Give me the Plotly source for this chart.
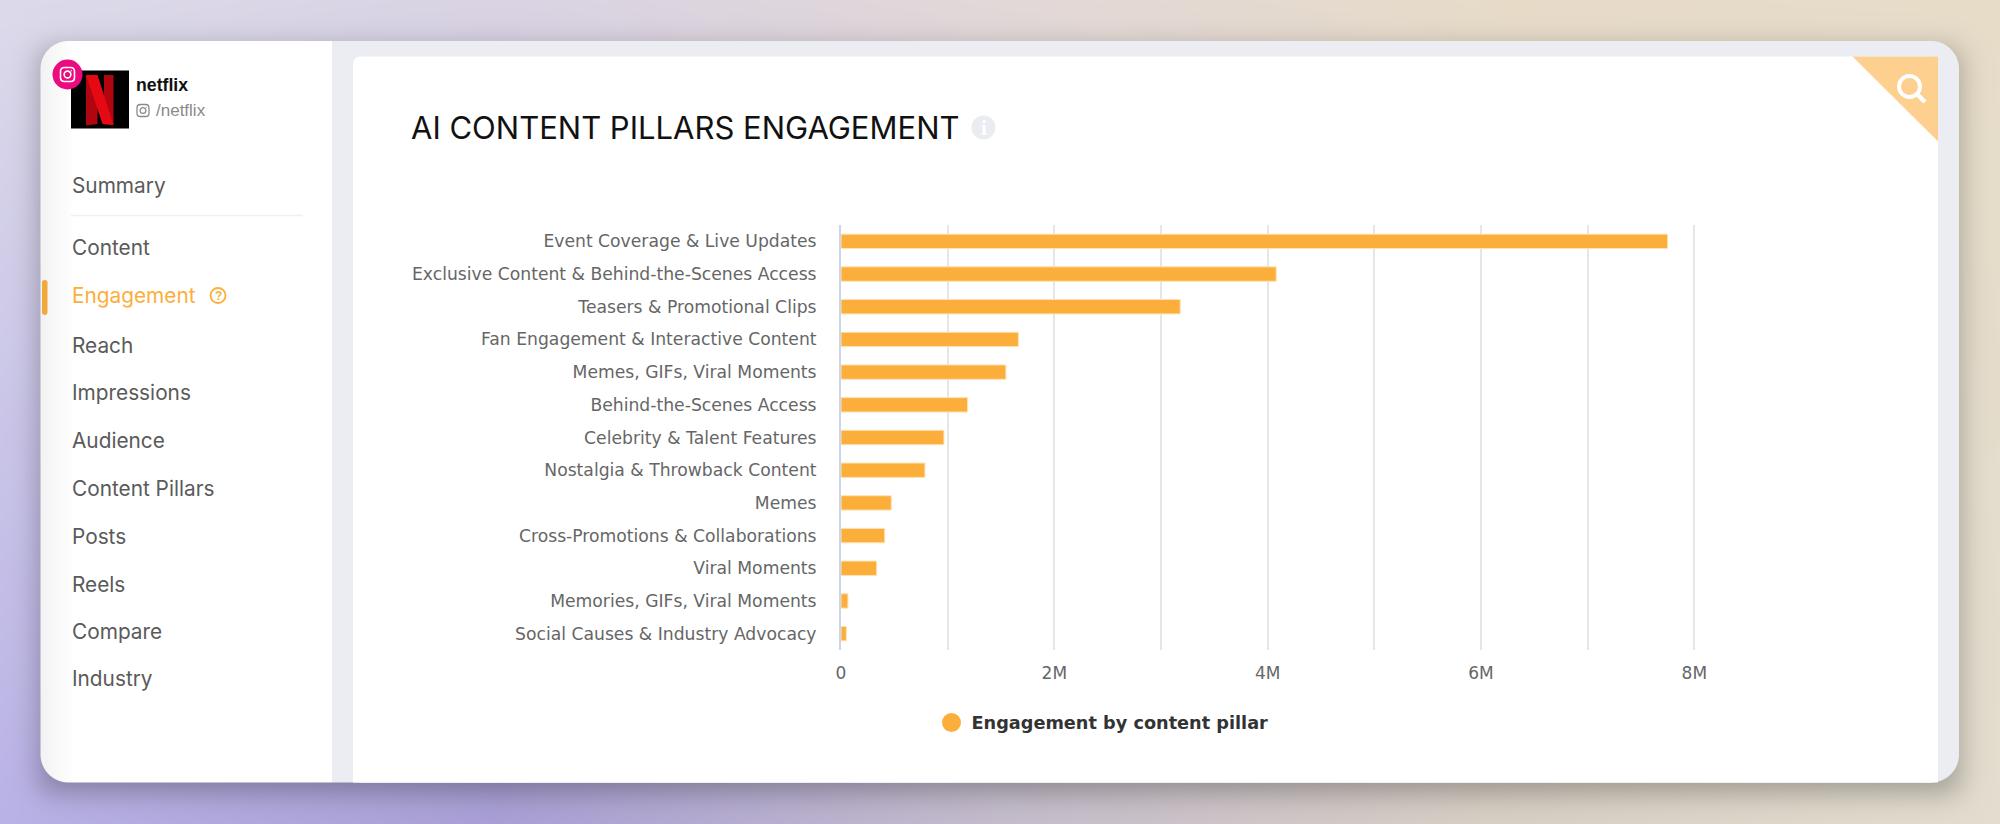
import base64
import math
import struct
import zlib

import numpy as np
import plotly.graph_objects as go

# chart values
categories = [
    "Event Coverage & Live Updates",
    "Exclusive Content & Behind-the-Scenes Access",
    "Teasers & Promotional Clips",
    "Fan Engagement & Interactive Content",
    "Memes, GIFs, Viral Moments",
    "Behind-the-Scenes Access",
    "Celebrity & Talent Features",
    "Nostalgia & Throwback Content",
    "Memes",
    "Cross-Promotions & Collaborations",
    "Viral Moments",
    "Memories, GIFs, Viral Moments",
    "Social Causes & Industry Advocacy",
]
engagement = [7750000, 4080000, 3180000, 1663000, 1546000, 1187000, 965000,
              787000, 471000, 410000, 334000, 65000, 50000]
tick_vals = [0, 1e6, 2e6, 3e6, 4e6, 5e6, 6e6, 7e6, 8e6, 9e6]
tick_text = ["0", "", "2M", "", "4M", "", "6M", "", "8M", ""]
series_name = "Engagement by content pillar"
chart_title = "AI CONTENT PILLARS ENGAGEMENT"

# sidebar
nav_labels = ["Summary", "Content", "Engagement", "Reach", "Impressions", "Audience",
              "Content Pillars", "Posts", "Reels", "Compare", "Industry"]
nav_y = [185, 248, 295, 345, 393, 440, 488.5, 536, 584, 631, 678.5]

W, H = 2000, 824
ORANGE = "#fcae3b"
TICK_FONT = "DejaVu Sans"
NAV_FONT = "Inter"


def fx(x):
    return x / W


def fy(y):
    return 1 - y / H


def make_backdrop():
    # page gradient, card shadow and card body as one png
    xs = np.arange(W) + 0.5
    ys = np.arange(H) + 0.5
    stops = [0, 500, 1000, 1500, 2000]
    top = [(220, 218, 234), (217, 211, 227), (226, 216, 216), (231, 219, 200), (230, 220, 200)]
    bottom = [(185, 178, 230), (169, 159, 214), (196, 188, 203), (216, 207, 196), (227, 221, 207)]
    img = np.zeros((H, W, 3))
    for c in range(3):
        t = np.interp(xs, stops, [p[c] for p in top])
        b = np.interp(xs, stops, [p[c] for p in bottom])
        img[:, :, c] = np.outer(1 - ys / H, t) + np.outer(ys / H, b)

    # soft shadow under the card
    erf = np.vectorize(math.erf)
    sig = 20.0
    sx = 0.5 * (erf((xs - 40) / sig) - erf((xs - 1959) / sig))
    sy = 0.5 * (erf((ys - 50) / sig) - erf((ys - 792) / sig))
    alpha = 0.30 * np.outer(sy, sx)
    img = img * (1 - alpha[:, :, None])

    # rounded card
    left, right, upper, lower, r = 40.5, 1959, 41, 782.5, 28
    gx, gy = np.meshgrid(xs, ys)
    dx = np.maximum(np.maximum(left + r - gx, gx - (right - r)), 0)
    dy = np.maximum(np.maximum(upper + r - gy, gy - (lower - r)), 0)
    dist = np.hypot(dx, dy) - r
    cover = np.clip(0.5 - dist, 0, 1)[:, :, None]
    body = np.zeros((H, W, 3))
    body[:, :] = (236, 237, 243)
    side = 255 - 13 * np.clip((75 - gx) / 35, 0, 1)
    side_mask = gx < 332
    for c in range(3):
        body[:, :, c] = np.where(side_mask, side, body[:, :, c])
    img = img * (1 - cover) + body * cover

    raw = np.clip(img + 0.5, 0, 255).astype(np.uint8)
    rows = b"".join(b"\x00" + raw[i].tobytes() for i in range(H))

    def chunk(tag, data):
        crc = zlib.crc32(tag + data) & 0xffffffff
        return struct.pack(">I", len(data)) + tag + data + struct.pack(">I", crc)

    png = (b"\x89PNG\r\n\x1a\n"
           + chunk(b"IHDR", struct.pack(">IIBBBBB", W, H, 8, 2, 0, 0, 0))
           + chunk(b"IDAT", zlib.compress(rows, 9))
           + chunk(b"IEND", b""))
    return "data:image/png;base64," + base64.b64encode(png).decode()


def poly(points, fill):
    path = "M " + " L ".join(f"{fx(x):.5f},{fy(y):.5f}" for x, y in points) + " Z"
    return dict(type="path", xref="paper", yref="paper", path=path, fillcolor=fill,
                line=dict(width=0), layer="below")


def round_rect(x0, y0, x1, y1, r, fill="rgba(0,0,0,0)", line_color=None, line_width=0):
    p = [("M", x0 + r, y0), ("L", x1 - r, y0), ("Q", x1, y0, x1, y0 + r), ("L", x1, y1 - r),
         ("Q", x1, y1, x1 - r, y1), ("L", x0 + r, y1), ("Q", x0, y1, x0, y1 - r),
         ("L", x0, y0 + r), ("Q", x0, y0, x0 + r, y0)]
    parts = []
    for seg in p:
        vals = seg[1:]
        coords = " ".join(f"{fx(vals[i]):.5f},{fy(vals[i + 1]):.5f}" for i in range(0, len(vals), 2))
        parts.append(f"{seg[0]} {coords}")
    return dict(type="path", xref="paper", yref="paper", path=" ".join(parts) + " Z",
                fillcolor=fill, line=dict(color=line_color, width=line_width), layer="below")


def rect(x0, y0, x1, y1, fill):
    return dict(type="rect", xref="paper", yref="paper", x0=fx(x0), x1=fx(x1), y0=fy(y1), y1=fy(y0),
                fillcolor=fill, line=dict(width=0), layer="below")


def circle(cx, cy, r, fill="rgba(0,0,0,0)", line_color=None, line_width=0):
    return dict(type="circle", xref="paper", yref="paper", x0=fx(cx - r), x1=fx(cx + r),
                y0=fy(cy - r), y1=fy(cy + r), fillcolor=fill,
                line=dict(color=line_color, width=line_width), layer="below")


def segment(x0, y0, x1, y1, color, width):
    return dict(type="line", xref="paper", yref="paper", x0=fx(x0), x1=fx(x1), y0=fy(y0), y1=fy(y1),
                line=dict(color=color, width=width), layer="below")


def insta_icon(cx, cy, size, color, lw):
    h = size / 2
    return [round_rect(cx - h, cy - h, cx + h, cy + h, size * 0.28, line_color=color, line_width=lw),
            circle(cx, cy, size * 0.24, line_color=color, line_width=lw),
            circle(cx + size * 0.27, cy - size * 0.27, size * 0.05, fill=color)]


shapes = [
    # white chart panel, square at the bottom
    round_rect(353, 56.5, 1938, 782.5, 8, fill="#ffffff"),
    rect(353, 760, 1938, 782.5, "#ffffff"),
    # corner ribbon + search glyph
    poly([(1852.5, 56.5), (1938, 56.5), (1938, 141.5)], "#fdd08f"),
    circle(1909.5, 86.5, 10.5, line_color="#ffffff", line_width=4),
    segment(1917.5, 94.5, 1925, 102, "#ffffff", 4.5),
    # logo
    rect(71, 70.5, 129, 128.5, "#000000"),
    poly([(86, 75), (97.5, 75), (97.5, 124), (86, 125.5)], "#b1060f"),
    poly([(104, 75), (113.5, 75), (113.5, 125), (104, 124)], "#b1060f"),
    poly([(86, 75), (97.5, 75), (113.5, 125), (102.5, 124)], "#e50914"),
    # instagram badge
    circle(67.5, 74.5, 15, fill="#ec0a7f"),
    # small handle icon
    *insta_icon(143, 110.5, 12, "#8a8a8a", 1.3),
    # sidebar details
    segment(71, 215.5, 303, 215.5, "#f0f0f2", 1.5),
    round_rect(42, 280, 47.5, 315, 2.5, fill="#f2a93b"),
    circle(218, 295.5, 7.5, line_color=ORANGE, line_width=1.8),
    # info icon by the title
    circle(983.5, 127.5, 12, fill="#e9ecf0"),
]
shapes += insta_icon(67.5, 74.5, 14, "#ffffff", 1.6)

fig = go.Figure()
fig.add_trace(go.Bar(
    x=engagement, y=categories, orientation="h", marker_color=ORANGE,
    marker_line=dict(color="#ffe2b5", width=1), showlegend=False, hoverinfo="x+y",
))
# circle swatch for the legend
fig.add_trace(go.Scatter(
    x=[None], y=[None], mode="markers", name=series_name,
    marker=dict(symbol="circle", size=16, color=ORANGE, line=dict(color=ORANGE, width=3)),
))

fig.update_layout(
    width=W, height=H, margin=dict(l=0, r=0, t=0, b=0, autoexpand=False), autosize=False,
    paper_bgcolor="#ffffff", plot_bgcolor="rgba(0,0,0,0)", bargap=0.56,
    images=[dict(source=make_backdrop(), xref="paper", yref="paper", x=0, y=1, sizex=1, sizey=1,
                 xanchor="left", yanchor="top", sizing="stretch", layer="below")],
    shapes=shapes,
    legend=dict(x=fx(931.5), y=fy(723), xanchor="left", yanchor="middle", bgcolor="rgba(0,0,0,0)",
                font=dict(family=TICK_FONT, size=17.7, color="#333333", weight="bold")),
    xaxis=dict(domain=[fx(841), fx(1801)], range=[0, 9e6], tickmode="array", tickvals=tick_vals,
               ticktext=tick_text, showgrid=True, gridcolor="#e6e6e6", gridwidth=2, zeroline=False,
               showline=False, ticks="", ticklabelstandoff=11, automargin=False,
               tickfont=dict(family=TICK_FONT, size=17, color="#666666")),
    yaxis=dict(domain=[fy(650), fy(225)], autorange="reversed", type="category", showgrid=False,
               zeroline=False, showline=True, linecolor="#ccd6eb", linewidth=2, ticks="",
               ticklabelstandoff=19, automargin=False,
               tickfont=dict(family=TICK_FONT, size=17.2, color="#666666")),
)


def label(x, y, text, family, size, color, weight="normal", anchor="left"):
    fig.add_annotation(x=fx(x), y=fy(y), xref="paper", yref="paper", text=text, showarrow=False,
                       xanchor=anchor, yanchor="middle",
                       font=dict(family=family, size=size, color=color, weight=weight))


label(408.5, 127.5, chart_title, NAV_FONT, 31, "#111111")
label(983.5, 128, "i", "Liberation Serif", 21, "#ffffff", weight="bold", anchor="center")
label(133.5, 85.5, "netflix", "Liberation Sans", 17.7, "#111111", weight="bold")
label(154, 110.5, "/netflix", "Liberation Sans", 17, "#8a8a8a")
label(218, 295.5, "?", "Liberation Sans", 12, ORANGE, weight="bold", anchor="center")
for name, y in zip(nav_labels, nav_y):
    label(70, y, name, NAV_FONT, 20.8, ORANGE if name == "Engagement" else "#5a5a5a")

fig.write_html("out.html", config=dict(displayModeBar=False),
               post_script="document.body.style.margin='0';document.body.style.overflow='hidden';")
